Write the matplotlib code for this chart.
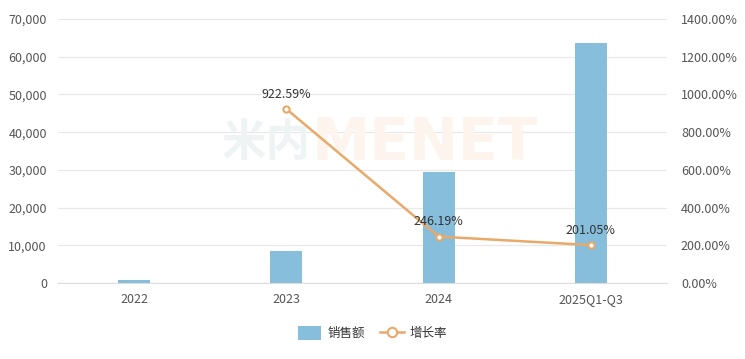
import numpy as np
import matplotlib
matplotlib.use("Agg")
import matplotlib.pyplot as plt
from matplotlib.ticker import FuncFormatter, FixedLocator

plt.rcParams['font.family'] = ['Noto Sans CJK SC', 'DejaVu Sans']

# --- data ---
categories = ['2022', '2023', '2024', '2025Q1-Q3']
sales = [830, 8500, 29300, 63600]
growth = [np.nan, 922.59, 246.19, 201.05]
growth_labels = ['', '922.59%', '246.19%', '201.05%']

bar_color = '#86bedc'
line_color = '#e9a96a'
grid_color = '#e8e8e8'
text_color = '#555555'

fig = plt.figure(figsize=(7.45, 3.59), dpi=100)
ax = fig.add_axes([58 / 745, 1 - 283 / 359, (667 - 58) / 745, (283 - 19) / 359])
ax2 = ax.twinx()

x = np.arange(len(categories))
ax.bar(x, sales, width=0.21, color=bar_color, zorder=2, label='销售额')
ax.set_xlim(-0.5, len(categories) - 0.5)
ax.set_ylim(0, 70000)
ax.yaxis.set_major_locator(FixedLocator(np.arange(0, 70001, 10000)))
ax.yaxis.set_major_formatter(FuncFormatter(lambda v, p: f'{int(v):,}'))
ax.set_xticks(x)
ax.set_xticklabels(categories)
ax.grid(axis='y', color=grid_color, linewidth=0.9, zorder=0)
ax.set_axisbelow(True)

ax2.plot(x, growth, color=line_color, linewidth=1.8, marker='o', markersize=4.5,
         markerfacecolor='white', markeredgecolor=line_color, markeredgewidth=1.5,
         zorder=3, label='增长率')
ax2.set_ylim(0, 1400)
ax2.yaxis.set_major_locator(FixedLocator(np.arange(0, 1401, 200)))
ax2.yaxis.set_major_formatter(FuncFormatter(lambda v, p: f'{v:.2f}%'))

for xi, g, lab in zip(x, growth, growth_labels):
    if lab:
        ax2.annotate(lab, (xi, g), xytext=(0, 6), textcoords='offset points',
                     ha='center', va='bottom', fontsize=9, color='#333333')

for a in (ax, ax2):
    for s in a.spines.values():
        s.set_visible(False)
    a.tick_params(length=0, labelsize=9, labelcolor=text_color)
ax.tick_params(axis='y', pad=8)
ax2.tick_params(axis='y', pad=10)
ax.tick_params(axis='x', pad=7)
ax.spines['bottom'].set_visible(True)
ax.spines['bottom'].set_color('#dddddd')

# faint watermark, behind the bars
ax.text((222 - 58) / 609, (283 - 143) / 264, '米内', transform=ax.transAxes,
        fontsize=32, fontweight='bold', color='#eef3f3', ha='left', va='center', zorder=1)
ax.text((312 - 58) / 609, (283 - 143) / 264, 'MENET', transform=ax.transAxes,
        fontsize=42, fontweight='bold', color='#fdf4ed', ha='left', va='center',
        zorder=1, family='DejaVu Sans')

h1, l1 = ax.get_legend_handles_labels()
h2, l2 = ax2.get_legend_handles_labels()
fig.legend(h1 + h2, l1 + l2, loc='center', bbox_to_anchor=(0.5, 1 - 333 / 359),
           ncol=2, frameon=False, fontsize=9, handlelength=1.9, handleheight=1.3,
           columnspacing=1.2, handletextpad=0.5, labelcolor='#333333', markerscale=1.5)

fig.savefig('out.png', dpi=100)
